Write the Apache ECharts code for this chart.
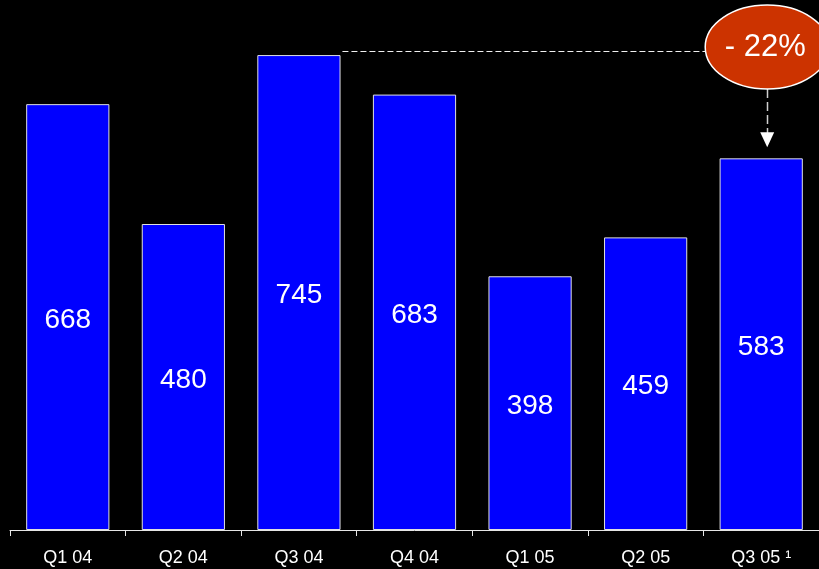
<!DOCTYPE html>
<html><head><meta charset="utf-8">
<script src="https://cdn.jsdelivr.net/npm/echarts@6/dist/echarts.min.js"></script>
<style>html,body{margin:0;padding:0;background:#000}#c{width:819px;height:569px}</style>
</head><body><div id="c"></div>
<script>
const categories = ['Q1 04','Q2 04','Q3 04','Q4 04','Q1 05','Q2 05','Q3 05 \u00B9'];
const values = [668, 480, 745, 683, 398, 459, 583];
const changeLabel = '- 22%';
const fromIdx = 2, toIdx = 6;

const chart = echarts.init(document.getElementById('c'));
chart.setOption({
  backgroundColor: '#000',
  animation: false,
  grid: {left: 10, right: 0, top: 20, bottom: 39},
  xAxis: {
    type: 'category', data: categories,
    axisLine: {lineStyle: {color: '#e6e6e6', width: 1}},
    axisTick: {show: true, length: 6, lineStyle: {color: '#e6e6e6'}},
    axisLabel: {color: '#fff', fontFamily: 'Liberation Sans', fontSize: 18, margin: 19}
  },
  yAxis: {type: 'value', min: 0, max: 800, show: false, splitLine: {show: false}},
  series: [{
    type: 'bar', data: values, barCategoryGap: '28%',
    itemStyle: {color: '#0000ff', borderColor: '#e0e0e0', borderWidth: 1},
    label: {show: true, position: 'inside', offset: [0, 3], color: '#fff', fontFamily: 'Liberation Sans', fontSize: 28}
  }]
});

const pFrom = chart.convertToPixel({seriesIndex: 0}, [fromIdx, values[fromIdx]]);
const pTo = chart.convertToPixel({seriesIndex: 0}, [toIdx, values[toIdx]]);
const bw = 83;
const ex = pTo[0] + 6, ey = 47, rx = 62, ry = 42;
const lineY = Math.round(pFrom[1] - 4) + 0.5;
chart.setOption({
  graphic: [
    {type: 'line', shape: {x1: pFrom[0] + bw/2 + 2, y1: lineY, x2: ex - rx, y2: lineY},
     style: {stroke: '#f0f0f0', lineWidth: 1, lineDash: [6, 3]}},
    {type: 'line', shape: {x1: Math.round(ex) + 0.5, y1: ey + ry, x2: Math.round(ex) + 0.5, y2: pTo[1] - 24},
     style: {stroke: '#d0d0d0', lineWidth: 1.5, lineDash: [9, 4]}},
    {type: 'polygon', shape: {points: [[ex - 7, pTo[1] - 26], [ex + 7, pTo[1] - 26], [ex, pTo[1] - 11]]},
     style: {fill: '#fff'}},
    {type: 'ellipse', shape: {cx: ex, cy: ey, rx: rx, ry: ry},
     style: {fill: '#cc3300', stroke: '#fff', lineWidth: 1.5}},
    {type: 'text', x: ex - 2, y: ey, style: {text: changeLabel, fill: '#fff', font: '31px "Liberation Sans"', textAlign: 'center', textVerticalAlign: 'middle'}}
  ]
});
</script></body></html>
